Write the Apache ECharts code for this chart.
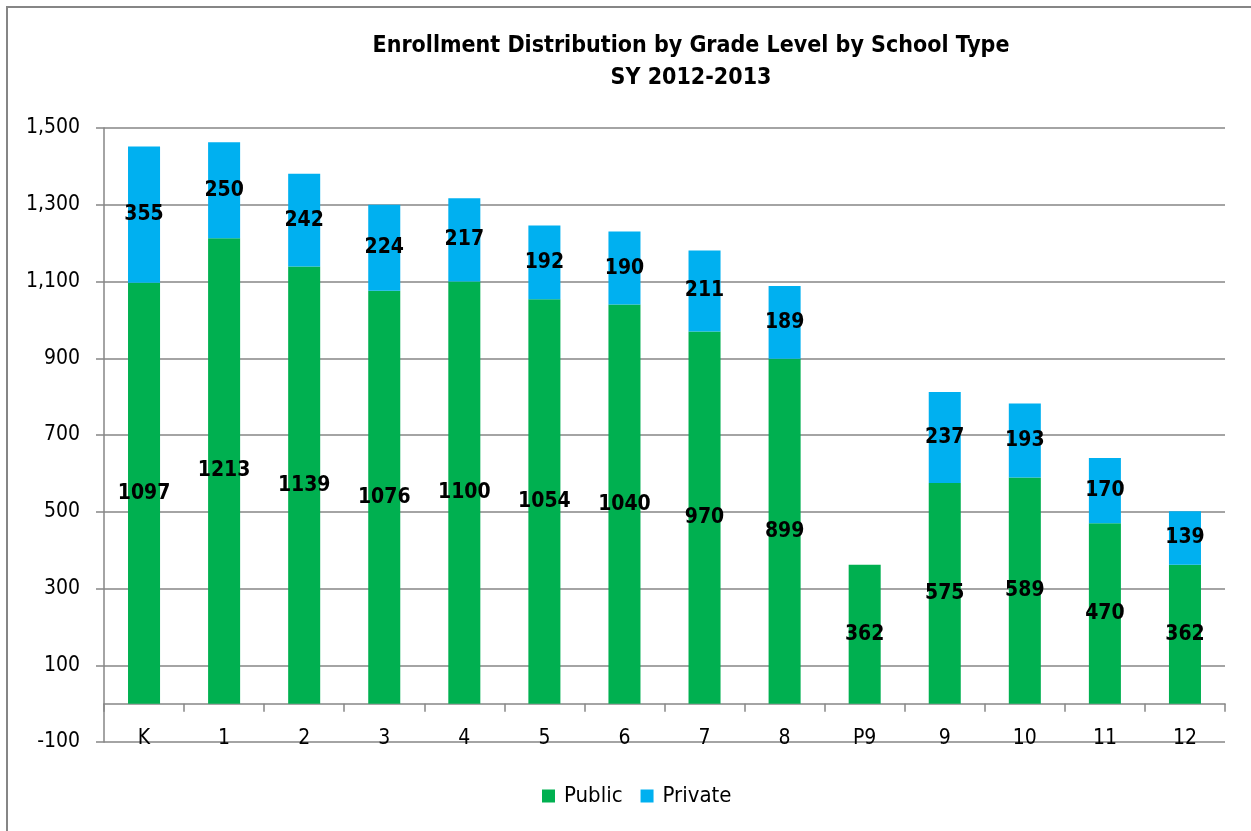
<!DOCTYPE html>
<html>
<head>
<meta charset="utf-8">
<script src="https://cdn.jsdelivr.net/npm/echarts@6/dist/echarts.min.js"></script>
<style>
  html, body { margin: 0; padding: 0; background: #fff; }
  #chart { width: 1251px; height: 831px; }
</style>
</head>
<body>
<div id="chart"></div>
<script>
// Enrollment per grade level, split by school type
const grades = ['K', '1', '2', '3', '4', '5', '6', '7', '8', 'P9', '9', '10', '11', '12'];
const publicEnrollment = [1097, 1213, 1139, 1076, 1100, 1054, 1040, 970, 899, 362, 575, 589, 470, 362];
const privateEnrollment = [355, 250, 242, 224, 217, 192, 190, 211, 189, null, 237, 193, 170, 139];
const yTicks = { min: -100, max: 1500, step: 200 };

const NARROW = '"Liberation Sans Narrow", "Arial Narrow", "DejaVu Sans Condensed", "Liberation Sans", sans-serif';
const GRAY = '#868686';

const chart = echarts.init(document.getElementById('chart'), null, { renderer: 'canvas' });

const valueLabel = {
  show: true,
  position: 'inside',
  color: '#000',
  fontFamily: NARROW,
  fontWeight: 'bold',
  fontSize: 21,
  formatter: p => (p.value == null ? '' : String(p.value))
};

chart.setOption({
  animation: false,
  backgroundColor: '#fff',
  textStyle: { fontFamily: NARROW },
  title: {
    text: 'Enrollment Distribution by Grade Level by School Type\nSY 2012-2013',
    left: 686,
    textAlign: 'center',
    top: 25,
    textStyle: {
      fontFamily: NARROW,
      fontWeight: 'bold',
      fontSize: 23,
      lineHeight: 32,
      color: '#000'
    }
  },
  legend: {
    bottom: 19,
    left: 537,
    itemWidth: 13,
    itemHeight: 13,
    itemGap: 18,
    icon: 'rect',
    textStyle: { fontFamily: NARROW, fontSize: 22, color: '#000', padding: [0, 0, 0, 4] },
    data: ['Public', 'Private']
  },
  grid: { left: 104, right: 26, top: 128, bottom: 89, containLabel: false },
  xAxis: [
    {
      // axis line and ticks drawn along the zero value
      type: 'category',
      data: grades,
      axisLine: { onZero: true, lineStyle: { color: GRAY, width: 1.5 } },
      axisTick: { show: true, length: 8, lineStyle: { color: GRAY, width: 1.5 } },
      axisLabel: { show: false },
      splitLine: { show: false }
    },
    {
      // grade labels sitting on the bottom edge
      type: 'category',
      data: grades,
      position: 'bottom',
      axisLine: { show: false, onZero: false },
      axisTick: { show: false },
      axisLabel: {
        show: true,
        margin: -14,
        color: '#000',
        fontFamily: NARROW,
        fontSize: 21
      },
      splitLine: { show: false }
    }
  ],
  yAxis: {
    type: 'value',
    min: yTicks.min,
    max: yTicks.max,
    interval: yTicks.step,
    axisLine: { show: true, lineStyle: { color: GRAY, width: 1.5 } },
    axisTick: { show: true, length: 8, lineStyle: { color: GRAY, width: 1.5 } },
    axisLabel: {
      margin: 24,
      color: '#000',
      fontFamily: NARROW,
      fontSize: 21,
      formatter: v => v.toLocaleString('en-US')
    },
    splitLine: { show: true, lineStyle: { color: GRAY, width: 1.5 } }
  },
  series: [
    {
      name: 'Public',
      type: 'bar',
      stack: 'total',
      xAxisIndex: 0,
      barWidth: '40%',
      itemStyle: { color: '#00B050' },
      label: valueLabel,
      data: publicEnrollment
    },
    {
      name: 'Private',
      type: 'bar',
      stack: 'total',
      xAxisIndex: 0,
      barWidth: '40%',
      itemStyle: { color: '#00B0F0' },
      label: valueLabel,
      data: privateEnrollment
    }
  ],
  graphic: [
    {
      type: 'polyline',
      shape: { points: [[7, 831], [7, 7], [1251, 7]] },
      style: { stroke: GRAY, lineWidth: 2, fill: null }
    }
  ]
});
</script>
</body>
</html>
